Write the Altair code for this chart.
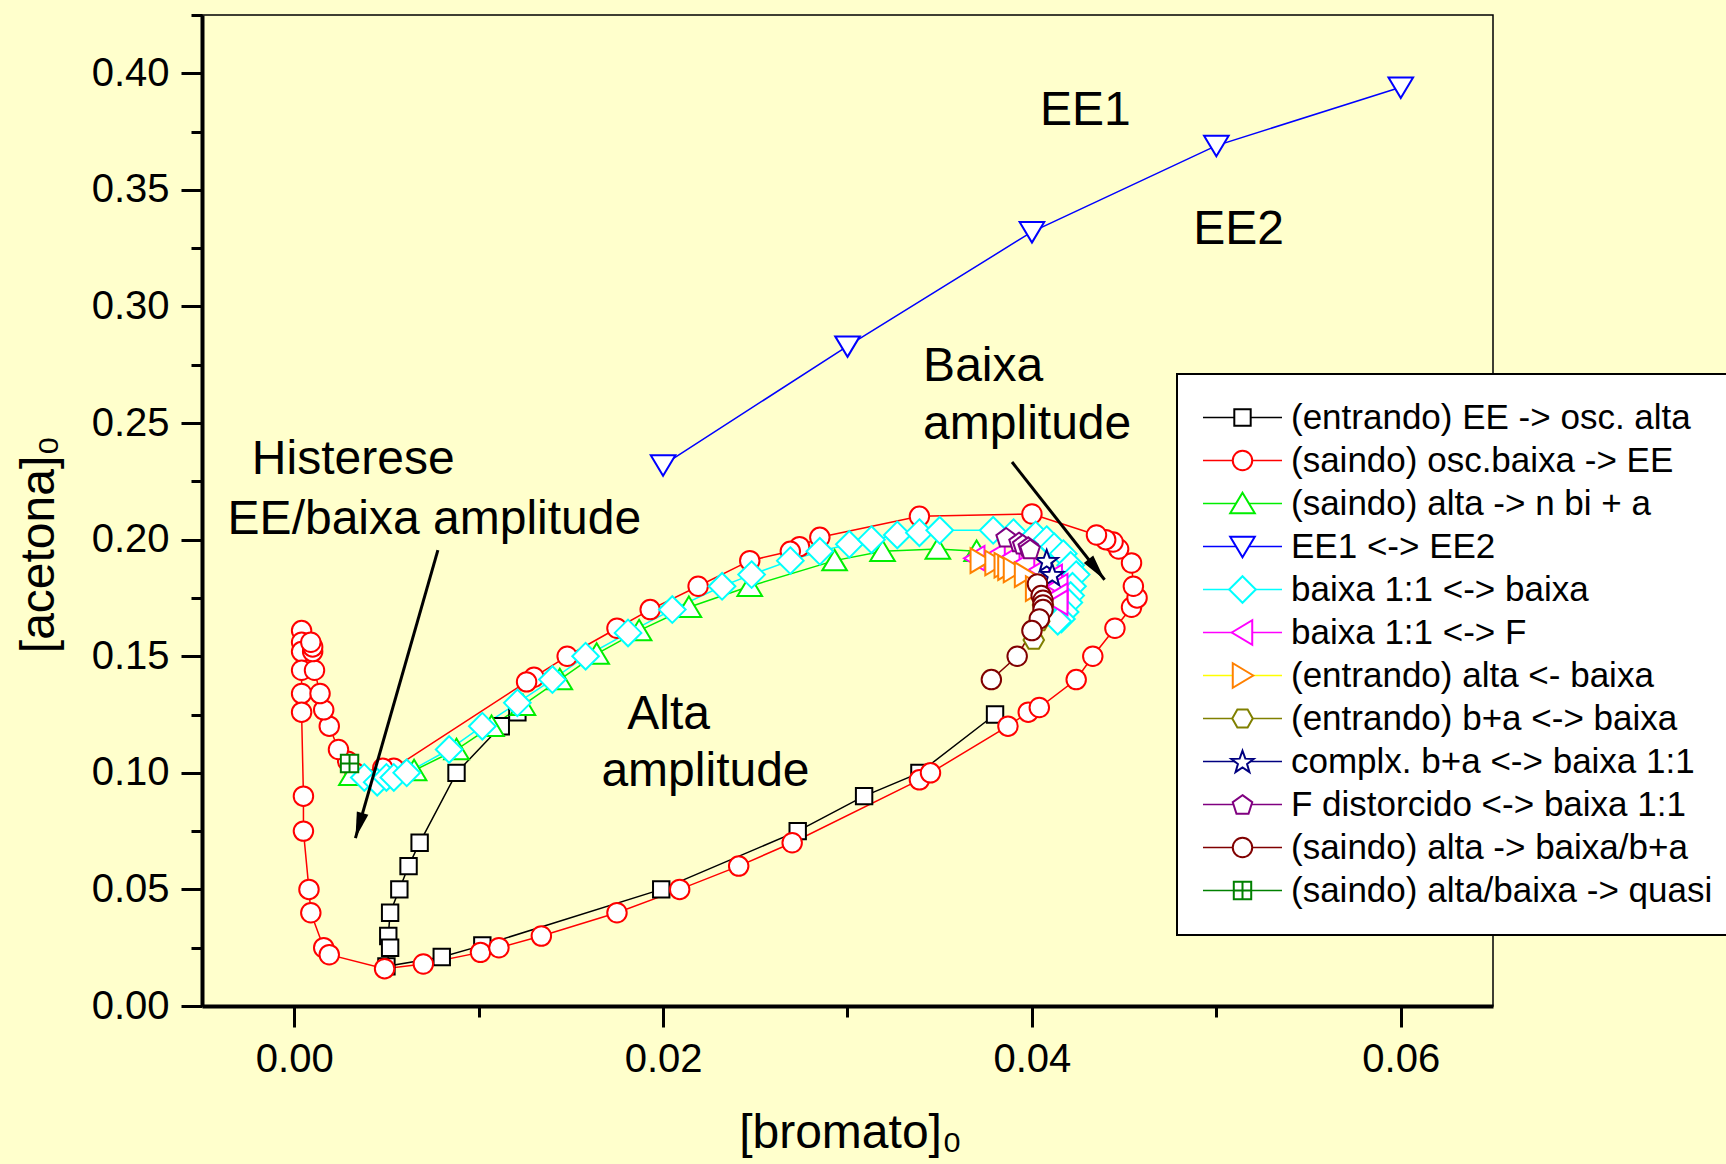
import math
import altair as alt
import pandas as pd

FONT = "Liberation Sans"
BG = "#FFFFCC"

# ---------------- series (legend order) ----------------
series_names = [
    "(entrando) EE -> osc. alta",
    "(saindo) osc.baixa -> EE",
    "(saindo) alta -> n bi + a",
    "EE1 <-> EE2",
    "baixa 1:1 <-> baixa",
    "baixa 1:1 <-> F",
    "(entrando) alta <- baixa",
    "(entrando) b+a <-> baixa",
    "complx. b+a <-> baixa 1:1",
    "F distorcido <-> baixa 1:1",
    "(saindo) alta -> baixa/b+a",
    "(saindo) alta/baixa -> quasi",
]
series_codes = ["s%02d" % (i + 1) for i in range(len(series_names))]
line_colors = ["#000000", "#FF0000", "#00EE00", "#0000FF", "#00FFFF", "#FF00FF",
               "#FFFF00", "#808000", "#000080", "#800080", "#800000", "#008000"]
marker_colors = ["#000000", "#FF0000", "#00EE00", "#0000FF", "#00FFFF", "#FF00FF",
                 "#FF8000", "#808000", "#000080", "#800080", "#800000", "#008000"]

ee_alta_x = [0.0121, 0.0112, 0.0088, 0.0068, 0.0062, 0.0057, 0.0052, 0.0051, 0.0052,
             0.0050, 0.0080, 0.0102, 0.0199, 0.0273, 0.0309, 0.0339, 0.0380]
ee_alta_y = [0.126, 0.120, 0.100, 0.070, 0.060, 0.050, 0.040, 0.030, 0.025,
             0.017, 0.021, 0.026, 0.050, 0.075, 0.090, 0.100, 0.125]

baixa_ee_x = [0.0004, 0.0004, 0.0004, 0.0004, 0.0004, 0.0004, 0.0005, 0.0005, 0.0008, 0.0009,
              0.0016, 0.0019, 0.0049, 0.0070, 0.0101, 0.0111, 0.0134, 0.0175, 0.0209, 0.0241,
              0.0270, 0.0339, 0.0345, 0.0387, 0.0398, 0.0404, 0.0424, 0.0433, 0.0445, 0.0454,
              0.0457, 0.0455, 0.0454, 0.0447, 0.0444, 0.0440, 0.0435, 0.0400, 0.0339, 0.0285,
              0.0274, 0.0269, 0.0247, 0.0219, 0.0193, 0.0175, 0.0148, 0.0130, 0.0126, 0.0054,
              0.0048, 0.0033, 0.0029, 0.0024, 0.0019, 0.0016, 0.0014, 0.0011, 0.0010, 0.0010,
              0.0009]
baixa_ee_y = [0.161, 0.156, 0.152, 0.144, 0.134, 0.126, 0.090, 0.075, 0.050, 0.040,
              0.025, 0.022, 0.016, 0.018, 0.023, 0.025, 0.030, 0.040, 0.050, 0.060,
              0.070, 0.097, 0.100, 0.120, 0.126, 0.128, 0.140, 0.150, 0.162, 0.171,
              0.175, 0.180, 0.190, 0.196, 0.199, 0.200, 0.202, 0.211, 0.210, 0.201,
              0.197, 0.195, 0.191, 0.180, 0.170, 0.162, 0.150, 0.141, 0.139, 0.102,
              0.102, 0.100, 0.105, 0.110, 0.120, 0.127, 0.134, 0.144, 0.152, 0.154,
              0.156]

alta_nbi_x = [0.0031, 0.0065, 0.0088, 0.0107, 0.0124, 0.0144, 0.0164, 0.0187, 0.0214,
              0.0247, 0.0293, 0.0319, 0.0349, 0.0370]
alta_nbi_y = [0.099, 0.101, 0.110, 0.120, 0.129, 0.140, 0.151, 0.161, 0.171,
              0.180, 0.191, 0.195, 0.196, 0.195]

ee1_ee2_x = [0.02, 0.03, 0.04, 0.05, 0.06]
ee1_ee2_y = [0.232, 0.283, 0.332, 0.369, 0.394]

baixa11_baixa_x = [0.0038, 0.0045, 0.0050, 0.0054, 0.0061, 0.0084, 0.0102, 0.0121, 0.0140,
                   0.0158, 0.0181, 0.0205, 0.0232, 0.0248, 0.0269, 0.0285, 0.0301, 0.0313,
                   0.0327, 0.0339, 0.0350, 0.0379, 0.0390, 0.0402, 0.0408, 0.0412, 0.0417,
                   0.0421, 0.0424, 0.0422, 0.0421, 0.0420, 0.0418, 0.0416, 0.0414]
baixa11_baixa_y = [0.098, 0.096, 0.098, 0.098, 0.100, 0.110, 0.120, 0.130, 0.140,
                   0.150, 0.160, 0.170, 0.180, 0.185, 0.191, 0.195, 0.198, 0.200,
                   0.202, 0.203, 0.204, 0.204, 0.203, 0.202, 0.200, 0.197, 0.194,
                   0.189, 0.185, 0.180, 0.176, 0.173, 0.169, 0.166, 0.165]

baixa11_f_x = [0.0369, 0.0380, 0.0388, 0.0396, 0.0404, 0.0411, 0.0414, 0.0414, 0.0414]
baixa11_f_y = [0.192, 0.193, 0.192, 0.190, 0.187, 0.184, 0.180, 0.176, 0.173]

alta_baixa_x = [0.0372, 0.0380, 0.0385, 0.0387, 0.0390, 0.0396, 0.0402]
alta_baixa_y = [0.191, 0.190, 0.189, 0.188, 0.187, 0.185, 0.179]

ba_baixa_x = [0.0401, 0.0404, 0.0406]
ba_baixa_y = [0.157, 0.165, 0.172]

complx_x = [0.0408, 0.0411]
complx_y = [0.191, 0.185]

fdist_x = [0.0386, 0.0393, 0.0395, 0.0398, 0.0399]
fdist_y = [0.201, 0.199, 0.198, 0.197, 0.196]

alta_bba_x = [0.0403, 0.0405, 0.0406, 0.0406, 0.0406, 0.0404, 0.0400, 0.0392, 0.0378]
alta_bba_y = [0.181, 0.176, 0.174, 0.172, 0.170, 0.166, 0.161, 0.150, 0.140]

quasi_x = [0.0030]
quasi_y = [0.104]

series_x = [ee_alta_x, baixa_ee_x, alta_nbi_x, ee1_ee2_x, baixa11_baixa_x, baixa11_f_x,
            alta_baixa_x, ba_baixa_x, complx_x, fdist_x, alta_bba_x, quasi_x]
series_y = [ee_alta_y, baixa_ee_y, alta_nbi_y, ee1_ee2_y, baixa11_baixa_y, baixa11_f_y,
            alta_baixa_y, ba_baixa_y, complx_y, fdist_y, alta_bba_y, quasi_y]

# axis ticks
x_tick_values = [0.00, 0.01, 0.02, 0.03, 0.04, 0.05, 0.06]
y_tick_values = [0.000, 0.025, 0.050, 0.075, 0.100, 0.125, 0.150, 0.175, 0.200,
                 0.225, 0.250, 0.275, 0.300, 0.325, 0.350, 0.375, 0.400, 0.425]

# annotations
ann_c_text = ["EE1", "EE2", "Histerese", "EE/baixa amplitude", "Alta", "amplitude"]
ann_c_x = [0.0429, 0.0512, 0.0032, 0.0076, 0.0203, 0.0223]
ann_c_y = [0.378, 0.327, 0.228, 0.2025, 0.119, 0.0944]
ann_l_text = ["Baixa", "amplitude"]
ann_l_x = [0.0341, 0.0341]
ann_l_y = [0.268, 0.243]

arrow_x0 = [0.00779, 0.03892]
arrow_y0 = [0.1955, 0.2333]
arrow_x1 = [0.00332, 0.04394]
arrow_y1 = [0.0720, 0.1828]

# ---------------- marker shapes ----------------
def poly(pts):
    return "M" + "L".join("%.3f,%.3f" % p for p in pts) + "Z"

def star(ro, ri):
    pts = []
    for k in range(10):
        r = ro if k % 2 == 0 else ri
        a = math.radians(-90 + 36 * k)
        pts.append((r * math.cos(a), r * math.sin(a) + 0.1))
    return poly(pts)

def pentagon(r):
    pts = []
    for k in range(5):
        a = math.radians(-90 + 72 * k)
        pts.append((r * math.cos(a), r * math.sin(a) + 0.09))
    return poly(pts)

P_CIRCLE = "M0.95,0A0.95,0.95,0,1,1,-0.95,0A0.95,0.95,0,1,1,0.95,0Z"
P_SQUARE = "M-0.8,-0.8L0.8,-0.8L0.8,0.8L-0.8,0.8Z"
P_TRI_UP = "M0,-1.05L1.2,0.95L-1.2,0.95Z"
P_TRI_DOWN = "M0,1.05L1.2,-0.95L-1.2,-0.95Z"
P_DIAMOND = "M0,-1.3L1.3,0L0,1.3L-1.3,0Z"
P_TRI_LEFT = "M-1.05,0L0.95,-1.2L0.95,1.2Z"
P_TRI_RIGHT = "M1.05,0L-0.95,-1.2L-0.95,1.2Z"
P_HEX = "M-1,0L-0.5,-0.87L0.5,-0.87L1,0L0.5,0.87L-0.5,0.87Z"
P_STAR = star(1.15, 0.47)
P_PENT = pentagon(1.0)
P_XSQ = "M-0.85,-0.85L0.85,-0.85L0.85,0.85L-0.85,0.85ZM0,-0.85L0,0.85M-0.85,0L0.85,0"
marker_paths = [P_SQUARE, P_CIRCLE, P_TRI_UP, P_TRI_DOWN, P_DIAMOND, P_TRI_LEFT,
                P_TRI_RIGHT, P_HEX, P_STAR, P_PENT, P_CIRCLE, P_XSQ]
LEG_LINE = "M-2.394,0L2.394,0"
HEAD = "M0,0L0.46,2L-0.46,2Z"

# ---------------- tables ----------------
rows = []
for code, name, xs, ys in zip(series_codes, series_names, series_x, series_y):
    for i, (xv, yv) in enumerate(zip(xs, ys)):
        rows.append({"code": code, "name": name, "x": xv, "y": yv, "idx": i})
df = pd.DataFrame(rows)

W, H = 1291, 991
XD = [-0.005, 0.065]
YD = [0.0, 0.425]
kx = W / (XD[1] - XD[0])
ky = H / (YD[1] - YD[0])
angles = []
for a, b, c, d in zip(arrow_x0, arrow_y0, arrow_x1, arrow_y1):
    dx = (c - a) * kx
    dy = -(d - b) * ky
    angles.append(math.degrees(math.atan2(dx, -dy)) % 360)
arrow_df = pd.DataFrame({"x0": arrow_x0, "y0": arrow_y0, "x1": arrow_x1, "y1": arrow_y1, "ang": angles})
ann_c = pd.DataFrame({"t": ann_c_text, "x": ann_c_x, "y": ann_c_y})
ann_l = pd.DataFrame({"t": ann_l_text, "x": ann_l_x, "y": ann_l_y})

xscale = alt.Scale(domain=XD, nice=False, zero=False)
yscale = alt.Scale(domain=YD, nice=False, zero=False)

x_major = "round(datum.value*100) % 2 == 0"
y_major = "round(datum.value*40) % 2 == 0"

axis_common = dict(
    grid=False, domainColor="black", domainWidth=4, tickColor="black", tickWidth=3,
    labelFont=FONT, labelFontSize=40, labelColor="black", labelOverlap=False, labelFlush=False,
    titleFont=FONT, titleFontSize=48, titleFontWeight="normal", titleColor="black",
    titleBaseline="alphabetic", titleAlign="center",
)
x_axis = alt.Axis(
    values=x_tick_values, title="[bromato]₀",
    labelExpr=f"{x_major} ? format(datum.value, '.2f') : ''",
    tickSize={"condition": {"test": x_major, "value": 21}, "value": 11},
    labelPadding=12, titleX=648, titleY=141, **axis_common,
)
y_axis = alt.Axis(
    values=y_tick_values, title="[acetona]₀",
    labelExpr=f"{y_major} ? format(datum.value, '.2f') : ''",
    tickSize={"condition": {"test": y_major, "value": 21}, "value": 11},
    labelPadding=12, titleAngle=270, titleX=-149, titleY=529, **axis_common,
)

leg_common = dict(
    title=None, orient="none", legendX=975, legendY=359, padding=26, rowPadding=7.0,
    labelFont=FONT, labelFontSize=35, labelColor="black", labelOffset=31, labelLimit=1000,
    symbolOffset=22,
)
line_legend = alt.Legend(symbolType=LEG_LINE, symbolSize=1089, symbolStrokeWidth=1.5,
                         fillColor="white", strokeColor="black", zindex=1, **leg_common)
mark_legend = alt.Legend(symbolSize=420, symbolStrokeWidth=2, symbolFillColor="white",
                         labelExpr="''", zindex=2, **leg_common)

lines = alt.Chart(df).mark_line(strokeWidth=1.5).encode(
    x=alt.X("x:Q", scale=xscale, axis=x_axis),
    y=alt.Y("y:Q", scale=yscale, axis=y_axis),
    color=alt.Color("name:N", scale=alt.Scale(domain=series_names, range=line_colors), legend=line_legend),
    order="idx:Q",
)
points = alt.Chart(df).mark_point(filled=True, fill="white", strokeWidth=2, size=420, opacity=1).encode(
    x="x:Q", y="y:Q",
    shape=alt.Shape("code:N", scale=alt.Scale(domain=series_codes, range=marker_paths), legend=mark_legend),
    stroke=alt.Stroke("code:N", scale=alt.Scale(domain=series_codes, range=marker_colors), legend=mark_legend),
)
text_c = alt.Chart(ann_c).mark_text(font=FONT, fontSize=48, color="black", align="center",
                                   baseline="alphabetic").encode(x="x:Q", y="y:Q", text="t:N")
text_l = alt.Chart(ann_l).mark_text(font=FONT, fontSize=48, color="black", align="left",
                                   baseline="alphabetic").encode(x="x:Q", y="y:Q", text="t:N")
arrows = alt.Chart(arrow_df).mark_rule(strokeWidth=3, color="black").encode(
    x="x0:Q", y="y0:Q", x2="x1:Q", y2="y1:Q")
heads = alt.Chart(arrow_df).mark_point(shape=HEAD, filled=True, color="black", size=676, opacity=1).encode(
    x="x1:Q", y="y1:Q", angle=alt.Angle("ang:Q", scale=None))

chart = alt.layer(lines, points, text_c, text_l, arrows, heads).properties(
    width=W, height=H,
    autosize=alt.AutoSizeParams(type="none"),
    padding={"left": 202, "top": 15, "right": 233, "bottom": 158},
    background=BG,
).configure_view(fill=BG, stroke="black", strokeWidth=1.5).configure_legend(strokeWidth=2)

chart.save("out.html", embed_options={"renderer": "svg", "actions": False})
